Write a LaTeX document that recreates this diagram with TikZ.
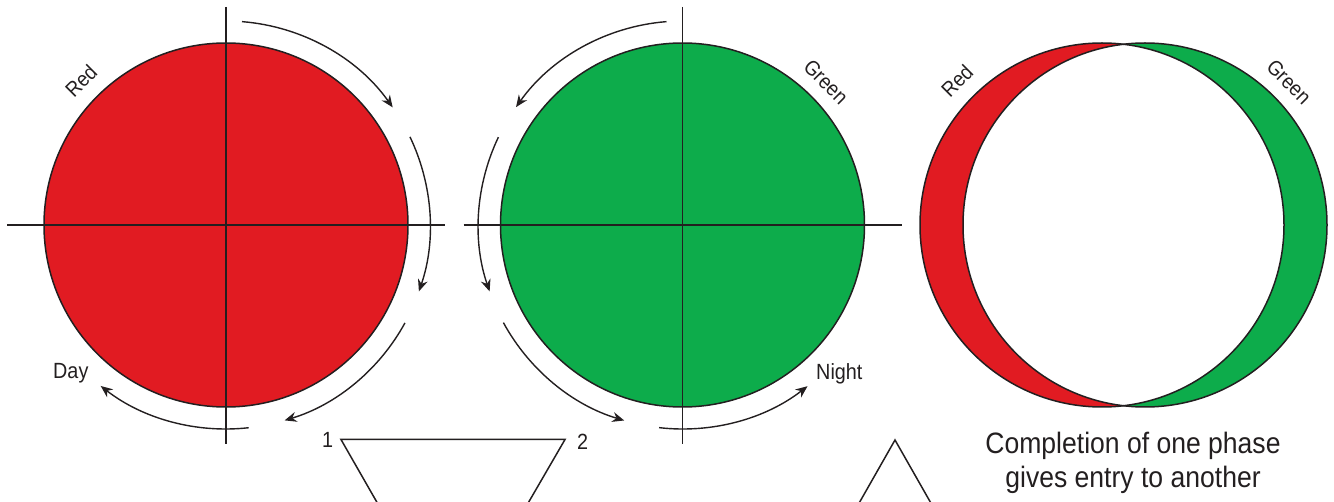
\documentclass[tikz,border=0pt]{standalone}
\usepackage{fontspec}
\setmainfont{Liberation Sans}[FakeStretch=0.9]
\usetikzlibrary{arrows.meta,calc}
\definecolor{cred}{HTML}{E11B22}
\definecolor{cgreen}{HTML}{0DAC4B}
\definecolor{ink}{HTML}{231F20}
\begin{document}
\begin{tikzpicture}[x=1pt,y=1pt,
  outline/.style={draw=ink, line width=1.5pt},
  axisline/.style={draw=ink, line width=1.5pt},
  cyc/.style={draw=ink, line width=1.4pt, -{Stealth[length=12pt,width=10pt,inset=4pt]}},
  disc/.style={circle, minimum size=364pt, inner sep=0pt, outer sep=0pt},
  lab/.style={font=\fontsize{21}{24}\selectfont, inner sep=0pt, text=ink},
  labb/.style={font=\fontsize{22}{26}\selectfont, inner sep=0pt, text=ink},
  note/.style={font=\fontsize{29.5}{35}\selectfont, inner sep=0pt, text=ink, anchor=base}]
\useasboundingbox (0,0) rectangle (1334,501);
\clip (0,0) rectangle (1334,501);

% left red disc
\node[disc, fill=cred, outline] (C1) at (226,276) {};
\draw[axisline] ($(C1.center)+(-219,0)$) -- ($(C1.center)+(219,0)$);
\draw[axisline] ($(C1.center)+(0,218)$) -- ($(C1.center)+(0,-219)$);
\draw[cyc] ([shift={(85.5:204)}]C1.center) arc[start angle=85.5, end angle=35.2, radius=204];
\draw[cyc] ([shift={(25.6:204)}]C1.center) arc[start angle=25.6, end angle=-19, radius=204];
\draw[cyc] ([shift={(-28.7:204)}]C1.center) arc[start angle=-28.7, end angle=-73.3, radius=204];
\draw[cyc] ([shift={(-83.6:204)}]C1.center) arc[start angle=-83.6, end angle=-127.9, radius=204];

% middle green disc
\node[disc, fill=cgreen, outline] (C2) at (682.5,276) {};
\draw[axisline] ($(C2.center)+(-219,0)$) -- ($(C2.center)+(219,0)$);
\draw[axisline] ($(C2.center)+(0,218)$) -- ($(C2.center)+(0,-219)$);
\draw[cyc] ([shift={(94.5:204)}]C2.center) arc[start angle=94.5, end angle=144.7, radius=204];
\draw[cyc] ([shift={(154.5:204)}]C2.center) arc[start angle=154.5, end angle=199, radius=204];
\draw[cyc] ([shift={(208.6:204)}]C2.center) arc[start angle=208.6, end angle=253.4, radius=204];
\draw[cyc] ([shift={(263.4:204)}]C2.center) arc[start angle=263.4, end angle=307.8, radius=204];

% right crescents
\node[disc] (R) at (1102,276) {};
\node[disc] (G) at (1145,276) {};
\fill[cred] (R.center) circle[radius=182];
\fill[cgreen] (G.center) circle[radius=182];
\begin{scope}
  \clip (R.center) circle[radius=182];
  \fill[white] (G.center) circle[radius=182];
\end{scope}
\draw[outline] (R.center) circle[radius=182];
\draw[outline] (G.center) circle[radius=182];

% labels
\node[lab, rotate=45] (redA) at (81,420) {Red};
\node[lab, rotate=-45] (greenA) at (826,419) {Green};
\node[lab, rotate=45] (redB) at (957,420) {Red};
\node[lab, rotate=-45] (greenB) at (1289,419) {Green};
\node[labb, anchor=base west] (day) at (53,122) {Day};
\node[labb, anchor=base west] (night) at (816,121) {Night};
\node[labb, anchor=base west] (n1) at (322,53) {1};
\node[labb, anchor=base west] (n2) at (577,52) {2};

% trapezoid and triangle at the bottom
\coordinate (t1) at (341,61.5);
\coordinate (t2) at (565,61.5);
\coordinate (t3) at (378.5,-4);
\coordinate (t4) at (527,-4);
\draw[axisline, line join=miter] (t3) -- (t1) -- (t2) -- (t4);
\coordinate (a1) at (895,61);
\coordinate (a2) at (858,-4);
\coordinate (a3) at (932,-4);
\draw[axisline, line join=miter] (a2) -- (a1) -- (a3);

% caption
\node[note] (cap1) at (1133,48) {Completion of one phase};
\node[note] (cap2) at (1133,13) {gives entry to another};
\end{tikzpicture}
\end{document}
